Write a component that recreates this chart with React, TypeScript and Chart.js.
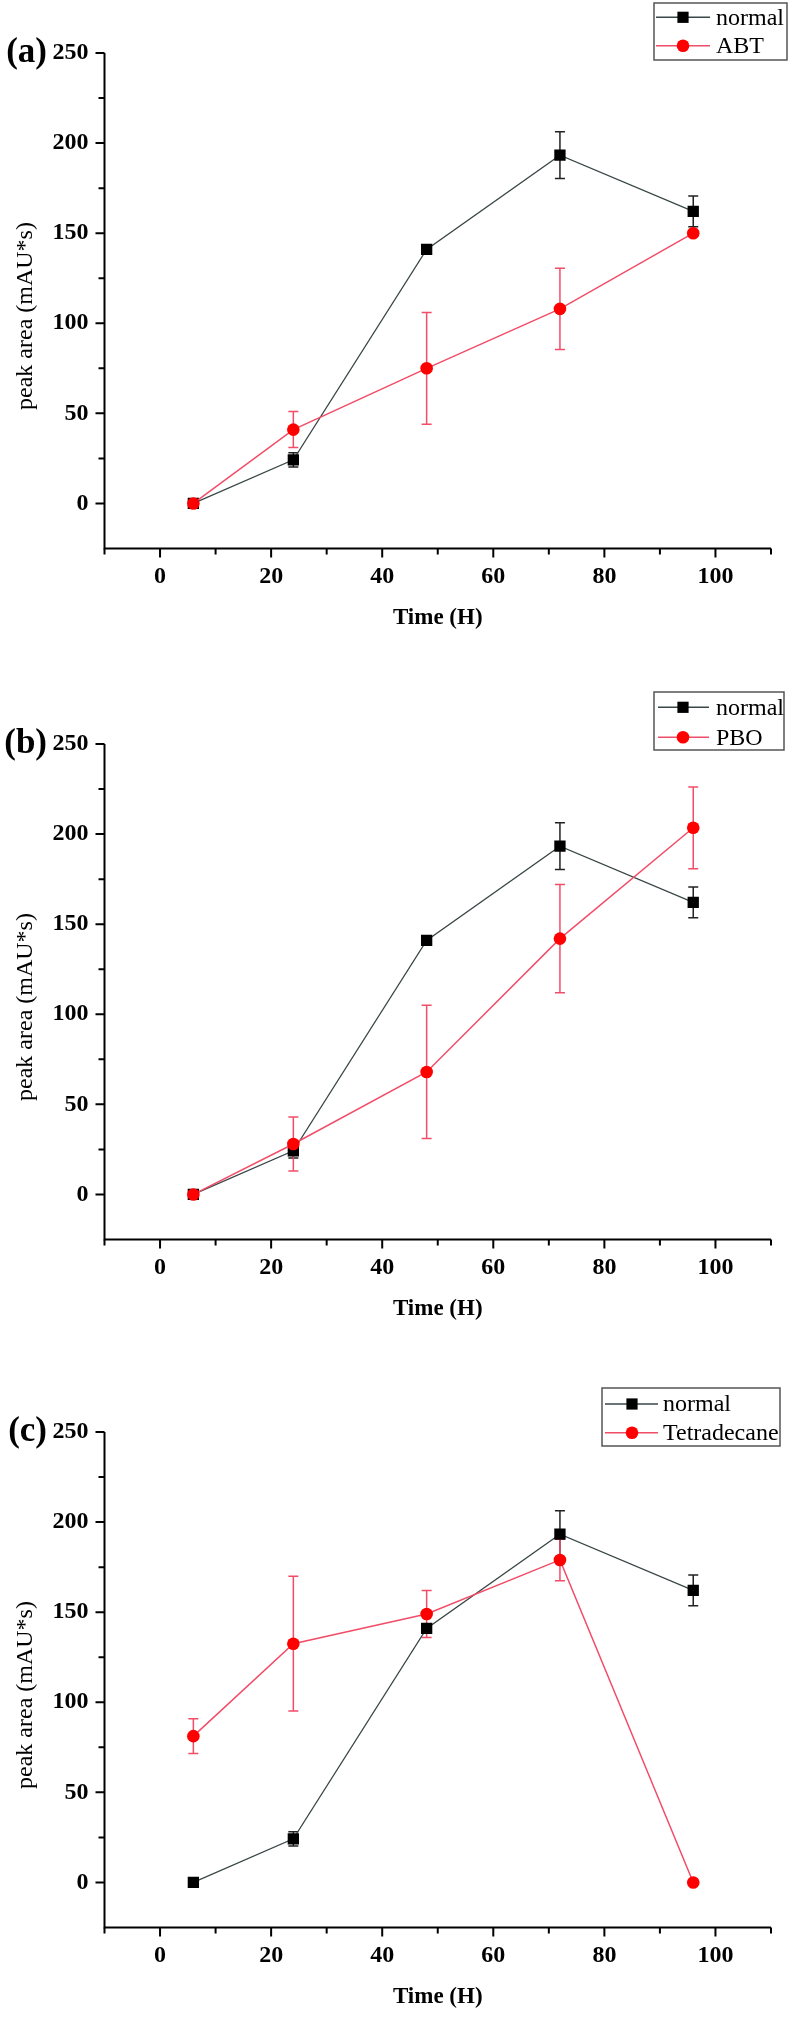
import React, { useEffect, useRef } from 'react';
import { Chart, registerables } from 'chart.js';

Chart.register(...registerables);

// ---- data ----
const TIMES = [6, 24, 48, 72, 96];

const NORMAL = [0, 24.2, 141, 193.3, 162.1];
const NORMAL_ERR = [1, 4, 1, 13, 8.5];

const ABT = [0, 41, 75, 108, 150];
const ABT_ERR = [1, 10, 31, 22.5, 1.5];

const PBO = [0, 28, 68, 142, 203.5];
const PBO_ERR = [1, 15, 37, 30, 22.7];

const TETRA = [81.2, 132.5, 149, 179, 0];
const TETRA_ERR = [9.6, 37.4, 13, 11.5, 0];

const X_LABELS = [0, 20, 40, 60, 80, 100];
const Y_LABELS = [0, 50, 100, 150, 200, 250];

const PANEL_LABELS = ['(a)', '(b)', '(c)'];
const TREATMENT_NAMES = ['ABT', 'PBO', 'Tetradecane'];
const TREATMENT_VALUES = [ABT, PBO, TETRA];
const TREATMENT_ERRS = [ABT_ERR, PBO_ERR, TETRA_ERR];

// ---- layout / style ----
const W = 788;
const PANEL_TOPS = [0, 691, 1379];
const PANEL_HEIGHTS = [640, 640, 638];
const AREA_TOP = 53;
const AREA_BOTTOM = 548.5;
const AREA_LEFT = 104.5;
const AREA_RIGHT = 771;

const LEGENDS = [
  { x: 654, y: 3, w: 133, h: 57, r1: 17.3, r2: 45.7, l0: 656, l1: 710, m: 683, t: 716 },
  { x: 654, y: 1, w: 130, h: 58, r1: 16.3, r2: 46.3, l0: 658, l1: 709, m: 683, t: 716 },
  { x: 602, y: 9, w: 178, h: 58, r1: 25, r2: 53.7, l0: 605, l1: 658, m: 632, t: 663 },
];

const SERIF = '"Liberation Serif", "Times New Roman", serif';
const NORMAL_LINE = '#3b4747';
const RED_LINE = '#f24d68';
const RED_MARK = '#ff0000';

function drawSquare(ctx: CanvasRenderingContext2D, x: number, y: number) {
  ctx.fillStyle = '#000';
  ctx.fillRect(x - 5.6, y - 5.6, 11.2, 11.2);
}
function drawCircle(ctx: CanvasRenderingContext2D, x: number, y: number) {
  ctx.fillStyle = RED_MARK;
  ctx.beginPath();
  ctx.arc(x, y, 6.3, 0, Math.PI * 2);
  ctx.fill();
}

function makeDecor(idx: number) {
  const series = [
    { values: NORMAL, err: NORMAL_ERR, color: '#222' },
    { values: TREATMENT_VALUES[idx], err: TREATMENT_ERRS[idx], color: RED_LINE },
  ];
  return {
    id: 'decor' + idx,
    beforeDatasetsDraw(chart: any) {
      const ctx: CanvasRenderingContext2D = chart.ctx;
      const xs = chart.scales.x;
      const ys = chart.scales.y;
      for (const s of series) {
        ctx.save();
        ctx.strokeStyle = s.color;
        ctx.lineWidth = 1.5;
        TIMES.forEach((t, i) => {
          const e = s.err[i];
          if (!e) return;
          const x = xs.getPixelForValue(t);
          const y1 = ys.getPixelForValue(s.values[i] + e);
          const y2 = ys.getPixelForValue(s.values[i] - e);
          ctx.beginPath();
          ctx.moveTo(x, y1);
          ctx.lineTo(x, y2);
          ctx.moveTo(x - 5, y1);
          ctx.lineTo(x + 5, y1);
          ctx.moveTo(x - 5, y2);
          ctx.lineTo(x + 5, y2);
          ctx.stroke();
        });
        ctx.restore();
      }
    },
    afterDraw(chart: any) {
      const ctx: CanvasRenderingContext2D = chart.ctx;
      const ca = chart.chartArea;
      const xs = chart.scales.x;
      const ys = chart.scales.y;
      ctx.save();
      // axes
      ctx.strokeStyle = '#000';
      ctx.lineWidth = 2;
      ctx.beginPath();
      ctx.moveTo(ca.left, ca.top);
      ctx.lineTo(ca.left, ca.bottom);
      ctx.lineTo(ca.right, ca.bottom);
      ctx.stroke();
      // x ticks
      ctx.beginPath();
      for (let v = xs.min; v <= xs.max + 0.001; v += 10) {
        const x = xs.getPixelForValue(v);
        const len = Math.abs(v % 20) < 0.001 ? 9 : 6;
        ctx.moveTo(x, ca.bottom);
        ctx.lineTo(x, ca.bottom + len);
      }
      // y ticks
      for (let v = ys.min + 25; v <= ys.max + 0.001; v += 25) {
        const y = ys.getPixelForValue(v);
        const len = Math.abs(v % 50) < 0.001 ? 9 : 6;
        ctx.moveTo(ca.left, y);
        ctx.lineTo(ca.left - len, y);
      }
      ctx.stroke();

      // axis titles
      ctx.fillStyle = '#000';
      ctx.font = `bold 23px ${SERIF}`;
      ctx.textAlign = 'center';
      ctx.textBaseline = 'alphabetic';
      ctx.fillText('Time (H)', (ca.left + ca.right) / 2, ca.bottom + 75.5);

      ctx.save();
      ctx.translate(32, ca.top + 263);
      ctx.rotate(-Math.PI / 2);
      ctx.font = `24px ${SERIF}`;
      ctx.fillText('peak area (mAU*s)', 0, 0);
      ctx.restore();

      // panel label
      ctx.font = `bold 35px ${SERIF}`;
      ctx.textAlign = 'right';
      ctx.fillText(PANEL_LABELS[idx], 47, 62);

      // legend
      const L = LEGENDS[idx];
      ctx.strokeStyle = '#555';
      ctx.lineWidth = 1.5;
      ctx.strokeRect(L.x, L.y, L.w, L.h);
      ctx.lineWidth = 1.6;
      ctx.strokeStyle = NORMAL_LINE;
      ctx.beginPath();
      ctx.moveTo(L.l0, L.r1);
      ctx.lineTo(L.l1, L.r1);
      ctx.stroke();
      drawSquare(ctx, L.m, L.r1);
      ctx.strokeStyle = RED_LINE;
      ctx.beginPath();
      ctx.moveTo(L.l0, L.r2);
      ctx.lineTo(L.l1, L.r2);
      ctx.stroke();
      drawCircle(ctx, L.m, L.r2);
      ctx.fillStyle = '#000';
      ctx.font = `24px ${SERIF}`;
      ctx.textAlign = 'left';
      ctx.textBaseline = 'middle';
      ctx.fillText('normal', L.t, L.r1 + 1);
      ctx.fillText(TREATMENT_NAMES[idx], L.t, L.r2 + 1);
      ctx.restore();
    },
  };
}

function Panel({ idx }: { idx: number }) {
  const ref = useRef<HTMLCanvasElement>(null);
  useEffect(() => {
    if (!ref.current) return;
    const H = PANEL_HEIGHTS[idx];
    const chart = new Chart(ref.current, {
      type: 'line',
      data: {
        datasets: [
          {
            label: TREATMENT_NAMES[idx],
            data: TIMES.map((t, i) => ({ x: t, y: TREATMENT_VALUES[idx][i] })),
            borderColor: RED_LINE,
            borderWidth: 1.5,
            pointStyle: 'circle',
            pointRadius: 6.3,
            pointBorderWidth: 0,
            pointBackgroundColor: RED_MARK,
            tension: 0,
            fill: false,
            order: 0,
          },
          {
            label: 'normal',
            data: TIMES.map((t, i) => ({ x: t, y: NORMAL[i] })),
            borderColor: NORMAL_LINE,
            borderWidth: 1.3,
            pointStyle: 'rect',
            pointRadius: 8,
            pointBorderWidth: 0,
            pointBackgroundColor: '#000',
            tension: 0,
            fill: false,
            order: 1,
          },
        ],
      },
      options: {
        responsive: false,
        animation: false,
        devicePixelRatio: 1,
        events: [],
        layout: { padding: { top: AREA_TOP, right: W - AREA_RIGHT, left: 0, bottom: 0 } },
        plugins: { legend: { display: false }, tooltip: { enabled: false }, title: { display: false } },
        scales: {
          x: {
            type: 'linear',
            min: -10,
            max: 110,
            grid: { display: false, drawTicks: false },
            border: { display: false },
            ticks: {
              stepSize: 10,
              autoSkip: false,
              maxRotation: 0,
              padding: 14,
              color: '#000',
              font: { family: SERIF, size: 24, weight: 'bold' },
              callback: (v: any) => (X_LABELS.includes(Number(v)) ? String(v) : ''),
            },
            afterFit: (s: any) => {
              s.height = H - AREA_BOTTOM;
            },
          },
          y: {
            type: 'linear',
            min: -25,
            max: 250,
            grid: { display: false, drawTicks: false },
            border: { display: false },
            ticks: {
              stepSize: 25,
              autoSkip: false,
              padding: 16,
              color: '#000',
              font: { family: SERIF, size: 24, weight: 'bold' },
              callback: (v: any) => (Y_LABELS.includes(Number(v)) ? String(v) : ''),
            },
            afterFit: (s: any) => {
              s.width = AREA_LEFT;
            },
          },
        },
      } as any,
      plugins: [makeDecor(idx)],
    });
    return () => chart.destroy();
  }, [idx]);
  return (
    <canvas
      ref={ref}
      width={W}
      height={PANEL_HEIGHTS[idx]}
      style={{ position: 'absolute', left: 0, top: PANEL_TOPS[idx], width: W, height: PANEL_HEIGHTS[idx], display: 'block' }}
    />
  );
}

export default function App() {
  return (
    <div style={{ position: 'absolute', left: 0, top: 0, width: W, height: 2017, background: '#fff', overflow: 'hidden' }}>
      <Panel idx={0} />
      <Panel idx={1} />
      <Panel idx={2} />
    </div>
  );
}
